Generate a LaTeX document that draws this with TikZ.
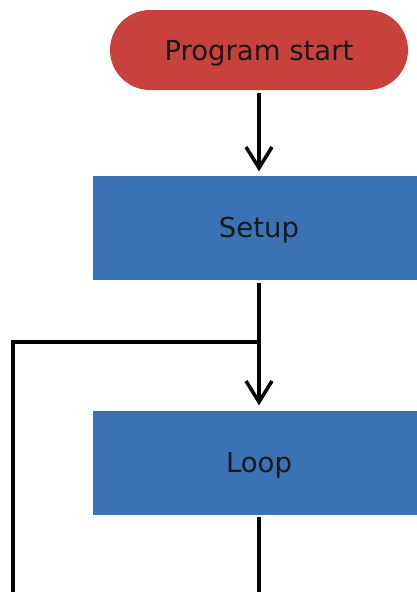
\documentclass[tikz,border=0pt]{standalone}
\usepackage{fontspec}
\setmainfont{DejaVu Sans}
\usepackage{xcolor}
\usepackage{tikz}
\usetikzlibrary{arrows.meta, positioning, calc}
\definecolor{startred}{RGB}{200, 65, 60}
\definecolor{stepblue}{RGB}{58, 114, 180}
\definecolor{labeldark}{RGB}{25, 25, 25}

\begin{document}
\begin{tikzpicture}[x=1pt, y=-1pt,
    term/.style={rectangle, rounded corners=40pt, fill=startred, draw=none,
        minimum width=298pt, minimum height=80pt, align=center,
        text height=20pt, text depth=0pt,
        font=\fontsize{27.5}{32}\selectfont, text=labeldark},
    stepbox/.style={rectangle, fill=stepblue, draw=none,
        minimum width=332pt, minimum height=104pt, align=center,
        text height=20pt, text depth=0pt,
        font=\fontsize{27.5}{32}\selectfont, text=labeldark},
    arr/.style={-{Straight Barb[length=21pt, width=26pt, line width=3.5pt]}, line width=3.5pt, black},
    ln/.style={line width=3.5pt, black}
]
\clip (0,0) rectangle (417,592);
\useasboundingbox (0,0) rectangle (417,592);

% Flow nodes
\node[term] (start) at (259,50) {Program start};
\node[stepbox] (setup) at (259,227.5) {Setup};
\node[stepbox] (loop) at (259,462.5) {Loop};

% Junction of the loop back
\coordinate (join) at (259,342);
\coordinate (turnR) at (259,593.5);
\coordinate (turnL) at (13,593.5);
\coordinate (up) at (13,342);

% Arrows
\draw[arr, shorten <=3pt, shorten >=4pt] (start) -- (setup);
\draw[arr, shorten <=3pt, shorten >=5pt] (setup) -- (loop);

% Loop back
\draw[ln, line join=miter, shorten <=2pt] (loop.south) -- (turnR) -- (turnL) -- (up) -- (join);

\end{tikzpicture}
\end{document}
